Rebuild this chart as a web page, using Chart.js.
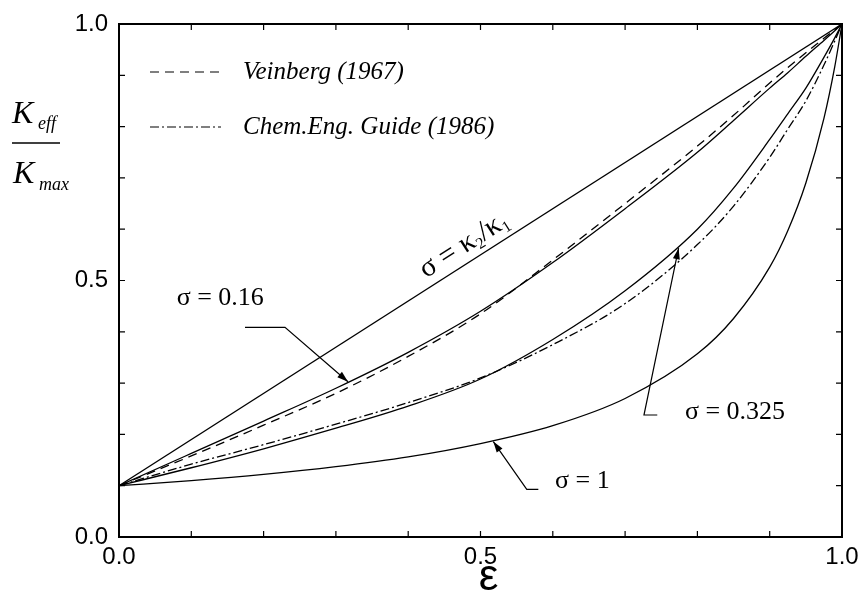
<!DOCTYPE html>
<html>
<head>
<meta charset="utf-8">
<script src="https://cdn.jsdelivr.net/npm/chart.js@4/dist/chart.umd.min.js"></script>
<style>
  html, body { margin: 0; padding: 0; background: #fff; }
  #chart { display: block; }
</style>
</head>
<body>
<canvas id="chart" width="862" height="594"></canvas>
<script>
// porosity grid (x) and curves
const eps = [0, 0.1, 0.2, 0.3, 0.4, 0.5, 0.6, 0.7, 0.8, 0.85, 0.9, 0.925, 0.95, 0.975, 0.99, 1.0];

const parallelX = [0, 1.0];
const parallelY = [0.1, 1.0];

const sigma016  = [0.1, 0.163, 0.226, 0.29, 0.36, 0.44, 0.535, 0.64, 0.75, 0.812, 0.875, 0.905, 0.937, 0.968, 0.987, 1.0];
const veinberg  = [0.1, 0.158, 0.218, 0.28, 0.352, 0.435, 0.54, 0.65, 0.762, 0.822, 0.885, 0.915, 0.944, 0.972, 0.989, 1.0];
const sigma0325 = [0.1, 0.135, 0.172, 0.212, 0.255, 0.308, 0.385, 0.48, 0.6, 0.68, 0.775, 0.825, 0.875, 0.935, 0.973, 1.0];
const chemEng   = [0.1, 0.142, 0.18, 0.22, 0.262, 0.31, 0.375, 0.455, 0.57, 0.645, 0.74, 0.795, 0.85, 0.92, 0.967, 1.0];
const sigma1    = [0.1, 0.11, 0.122, 0.137, 0.156, 0.182, 0.217, 0.27, 0.357, 0.426, 0.526, 0.597, 0.69, 0.816, 0.917, 1.0];

const xTicks = [0, 0.5, 1.0];
const yTicks = [0, 0.5, 1.0];
const minorTicks = [0, 0.1, 0.2, 0.3, 0.4, 0.5, 0.6, 0.7, 0.8, 0.9, 1.0];

// labels with leader arrows, in data units
const notes = [
    { text: "σ = 0.16",  at: [0.14, 0.465],  path: [[0.1743, 0.4088], [0.2296, 0.4088], [0.3167, 0.3027]] },
    { text: "σ = 0.325", at: [0.852, 0.244], path: [[0.7445, 0.2378], [0.7261, 0.2378], [0.774, 0.563]] },
    { text: "σ = 1",     at: [0.641, 0.108], path: [[0.58, 0.093], [0.564, 0.093], [0.5177, 0.186]] }
];

const pts = (xs, ys) => xs.map((x, i) => ({ x: x, y: ys[i] }));

const line = (label, xs, ys, dash) => ({
    label: label,
    data: pts(xs, ys),
    showLine: true,
    borderColor: "#000",
    borderWidth: 1.3,
    borderDash: dash || [],
    pointRadius: 0,
    fill: false,
    cubicInterpolationMode: "monotone",
    legendEntry: false
});

const datasets = [
    line("parallel", parallelX, parallelY),
    line("σ = 0.16", eps, sigma016),
    line("Veinberg (1967)", eps, veinberg, [9, 6]),
    line("σ = 0.325", eps, sigma0325),
    line("Chem.Eng. Guide (1986)", eps, chemEng, [9, 3, 2, 3]),
    line("σ = 1", eps, sigma1)
];
datasets[2].legendEntry = true;
datasets[4].legendEntry = true;

const arrowHead = function (ctx, x0, y0, x1, y1) {
    const a = Math.atan2(y1 - y0, x1 - x0);
    const len = 11, w = 3.5;
    ctx.beginPath();
    ctx.moveTo(x1, y1);
    ctx.lineTo(x1 - len * Math.cos(a) + w * Math.sin(a), y1 - len * Math.sin(a) - w * Math.cos(a));
    ctx.lineTo(x1 - len * Math.cos(a) - w * Math.sin(a), y1 - len * Math.sin(a) + w * Math.cos(a));
    ctx.closePath();
    ctx.fill();
};

const decor = {
    id: "decor",
    afterDraw(chart) {
        const ctx = chart.ctx;
        const a = chart.chartArea;
        const x = chart.scales.x, y = chart.scales.y;
        ctx.save();
        ctx.strokeStyle = "#000";
        ctx.fillStyle = "#000";

        // inward ticks on all four sides
        ctx.lineWidth = 1.2;
        minorTicks.forEach(v => {
            const px = x.getPixelForValue(v), py = y.getPixelForValue(v);
            ctx.beginPath();
            ctx.moveTo(px, a.bottom); ctx.lineTo(px, a.bottom - 6);
            ctx.moveTo(px, a.top); ctx.lineTo(px, a.top + 6);
            ctx.moveTo(a.left, py); ctx.lineTo(a.left + 6, py);
            ctx.moveTo(a.right, py); ctx.lineTo(a.right - 6, py);
            ctx.stroke();
        });
        ctx.lineWidth = 2;
        ctx.strokeRect(a.left, a.top, a.right - a.left, a.bottom - a.top);

        // legend
        let ly = a.top + 48;
        chart.data.datasets.filter(d => d.legendEntry).forEach(d => {
            ctx.lineWidth = 1.2;
            ctx.setLineDash(d.borderDash);
            ctx.beginPath();
            ctx.moveTo(a.left + 31, ly);
            ctx.lineTo(a.left + 102, ly);
            ctx.stroke();
            ctx.setLineDash([]);
            ctx.font = "italic 25px 'Liberation Serif'";
            ctx.textAlign = "left";
            ctx.textBaseline = "middle";
            ctx.fillText(d.label, a.left + 124, ly);
            ly += 55;
        });

        // sigma labels with arrows
        ctx.lineWidth = 1.2;
        notes.forEach(n => {
            const p = n.path.map(q => [x.getPixelForValue(q[0]), y.getPixelForValue(q[1])]);
            ctx.beginPath();
            ctx.moveTo(p[0][0], p[0][1]);
            for (let i = 1; i < p.length; i++) ctx.lineTo(p[i][0], p[i][1]);
            ctx.stroke();
            const k = p.length - 1;
            arrowHead(ctx, p[k - 1][0], p[k - 1][1], p[k][0], p[k][1]);
            ctx.font = "26px 'Liberation Serif'";
            ctx.textAlign = "center";
            ctx.textBaseline = "middle";
            ctx.fillText(n.text, x.getPixelForValue(n.at[0]), y.getPixelForValue(n.at[1]));
        });

        // rotated label along the parallel line
        const x0 = x.getPixelForValue(parallelX[0]), y0 = y.getPixelForValue(parallelY[0]);
        const x1 = x.getPixelForValue(parallelX[1]), y1 = y.getPixelForValue(parallelY[1]);
        const ang = Math.atan2(y1 - y0, x1 - x0);
        const t = 0.49;
        const cx = x0 + (x1 - x0) * t, cy = y0 + (y1 - y0) * t;
        ctx.save();
        ctx.translate(cx, cy);
        ctx.rotate(ang);
        ctx.translate(0, -17);
        ctx.textBaseline = "middle";
        ctx.textAlign = "left";
        ctx.font = "29px 'Liberation Serif'";
        let tx = -50;
        ctx.fillText("σ = κ", tx, 0);
        tx += ctx.measureText("σ = κ").width;
        ctx.font = "16px 'Liberation Serif'";
        ctx.fillText("2", tx, 8);
        tx += ctx.measureText("2").width;
        ctx.font = "29px 'Liberation Serif'";
        ctx.fillText("/κ", tx, 0);
        tx += ctx.measureText("/κ").width;
        ctx.font = "16px 'Liberation Serif'";
        ctx.fillText("1", tx, 8);
        ctx.restore();

        // y axis title as a fraction
        ctx.textAlign = "left";
        ctx.textBaseline = "alphabetic";
        ctx.font = "italic 32px 'Liberation Serif'";
        ctx.fillText("K", 12, 123);
        ctx.fillText("K", 13, 183);
        ctx.font = "italic 18px 'Liberation Serif'";
        ctx.fillText("eff", 38, 129);
        ctx.fillText("max", 39, 190);
        ctx.lineWidth = 1.5;
        ctx.beginPath();
        ctx.moveTo(12, 143);
        ctx.lineTo(60, 143);
        ctx.stroke();

        // x axis title
        ctx.font = "44px 'Liberation Sans'";
        ctx.textAlign = "center";
        ctx.fillText("ε", (a.left + a.right) / 2 + 8, 590);
        ctx.restore();
    }
};

const tickFont = { family: "'Liberation Sans', Arial, sans-serif", size: 24 };

new Chart(document.getElementById("chart"), {
    type: "scatter",
    data: { datasets: datasets },
    options: {
        responsive: false,
        animation: false,
        layout: { padding: { top: 24, right: 20, left: 0, bottom: 0 } },
        plugins: { legend: { display: false }, tooltip: { enabled: false } },
        scales: {
            x: {
                type: "linear",
                min: 0,
                max: 1,
                afterBuildTicks: s => { s.ticks = xTicks.map(v => ({ value: v })); },
                afterFit: s => { s.height = 57; s.paddingRight = 0; s.paddingLeft = 0; },
                ticks: { callback: v => v.toFixed(1), color: "#000", font: tickFont, padding: 6, maxRotation: 0 },
                grid: { display: false, drawTicks: false },
                border: { display: false }
            },
            y: {
                type: "linear",
                min: 0,
                max: 1,
                afterBuildTicks: s => { s.ticks = yTicks.map(v => ({ value: v })); },
                afterFit: s => { s.width = 119; s.paddingTop = 0; s.paddingBottom = 0; },
                ticks: { callback: v => v.toFixed(1), color: "#000", font: tickFont, padding: 11 },
                grid: { display: false, drawTicks: false },
                border: { display: false }
            }
        }
    },
    plugins: [decor]
});
</script>
</body>
</html>
